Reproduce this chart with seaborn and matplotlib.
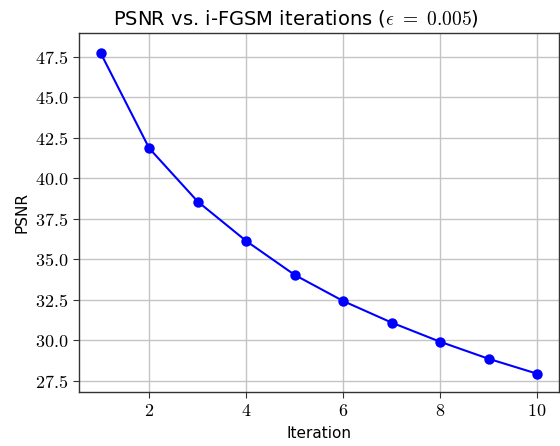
import matplotlib
matplotlib.use("Agg")
import matplotlib.pyplot as plt
import seaborn as sns
import pandas as pd
from matplotlib.ticker import FuncFormatter

iterations = [1, 2, 3, 4, 5, 6, 7, 8, 9, 10]
psnr = [47.7, 41.84, 38.56, 36.13, 34.04, 32.43, 31.10, 29.92, 28.87, 27.95]

sns.set_style("ticks")
plt.rcParams["font.family"] = ["DejaVu Sans"]
plt.rcParams["mathtext.fontset"] = "cm"
plt.rcParams["text.color"] = "black"
plt.rcParams["axes.labelcolor"] = "black"
plt.rcParams["xtick.color"] = "#333333"
plt.rcParams["ytick.color"] = "#333333"
plt.rcParams["xtick.labelcolor"] = "black"
plt.rcParams["ytick.labelcolor"] = "black"

df = pd.DataFrame({"Iteration": iterations, "PSNR": psnr})

fig = plt.figure(figsize=(5.6, 4.46), dpi=100)
ax = fig.add_axes([0.141, 0.121, 0.857, 0.805])
sns.lineplot(data=df, x="Iteration", y="PSNR", ax=ax, color="#0000ff",
             marker="o", markersize=7.5, markeredgewidth=0, linewidth=1.5)
ax.set_xlim(0.55, 10.45)
ax.set_ylim(26.82, 48.95)
ax.grid(True, color="#c4c4c4", linewidth=1.0)
ax.set_axisbelow(True)
ax.set_yticks([27.5, 30.0, 32.5, 35.0, 37.5, 40.0, 42.5, 45.0, 47.5])
ax.set_xticks([2, 4, 6, 8, 10])
ax.yaxis.set_major_formatter(FuncFormatter(lambda v, p: f"${v:.1f}$"))
ax.xaxis.set_major_formatter(FuncFormatter(lambda v, p: f"${int(v)}$"))
ax.tick_params(labelsize=13, length=4)
for s in ax.spines.values():
    s.set_color("#333333")
    s.set_linewidth(1.0)
ax.set_xlabel("Iteration", fontsize=11, color="black")
ax.set_ylabel("PSNR", fontsize=11, color="black")
ax.set_title(r"PSNR vs. i-FGSM iterations ($\epsilon\ =\ 0.005$)", fontsize=14,
             color="black", x=0.453)
fig.savefig("out.png", dpi=100)
